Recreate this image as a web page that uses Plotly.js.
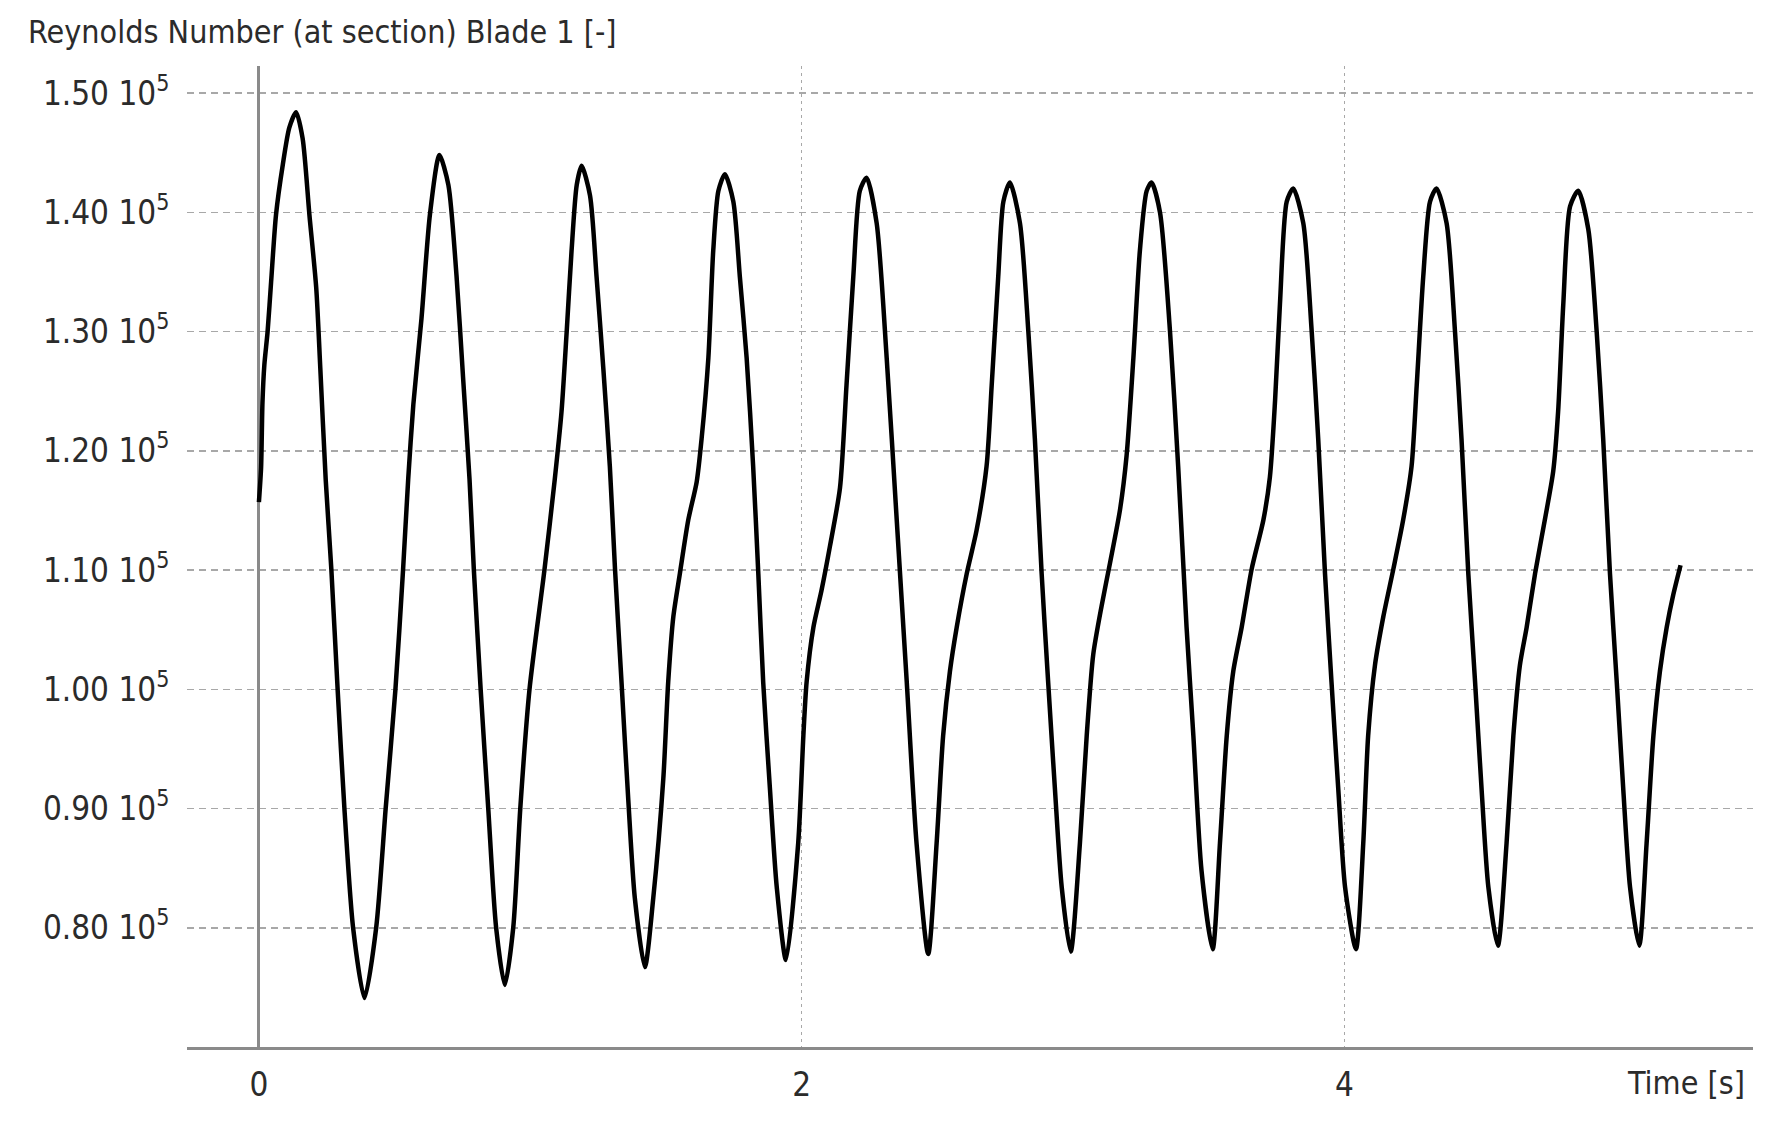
<!DOCTYPE html>
<html>
<head>
<meta charset="utf-8">
<script src="https://cdn.plot.ly/plotly-3.0.1.min.js"></script>
<style>html,body{margin:0;padding:0;background:#fff;}#chart{width:1773px;height:1131px;}</style>
</head>
<body>
<div id="chart"></div>
<script>
// Time [s]
const time = [
  0.000, 0.008, 0.013, 0.020, 0.032, 0.045, 0.063, 0.088, 0.112, 0.137,
  0.161, 0.186, 0.211, 0.226, 0.246, 0.267, 0.290, 0.315, 0.347, 0.389,
  0.432, 0.467, 0.503, 0.531, 0.550, 0.569, 0.599, 0.630, 0.665,
  0.698, 0.728, 0.752, 0.776, 0.792, 0.817, 0.845, 0.874, 0.906,
  0.937, 0.963, 0.997, 1.052, 1.090, 1.115, 1.134, 1.152, 1.171, 1.189,
  1.220, 1.244, 1.269, 1.293, 1.312, 1.336, 1.361, 1.385, 1.422,
  1.453, 1.490, 1.508, 1.527, 1.551, 1.582, 1.613, 1.631, 1.656, 1.674, 1.693, 1.717,
  1.748, 1.772, 1.797, 1.821, 1.840, 1.858, 1.883, 1.908, 1.942,
  1.987, 2.006, 2.018, 2.043, 2.073, 2.104, 2.141, 2.165, 2.190, 2.214, 2.239,
  2.276, 2.313, 2.350, 2.387, 2.423, 2.466,
  2.497, 2.521, 2.546, 2.571, 2.608, 2.644, 2.681, 2.700, 2.724, 2.743, 2.767,
  2.804, 2.835, 2.859, 2.884, 2.908, 2.933, 2.958, 2.991,
  3.025, 3.050, 3.074, 3.105, 3.136, 3.173, 3.197, 3.222, 3.246, 3.271, 3.289,
  3.320, 3.357, 3.387, 3.418, 3.443, 3.473, 3.514,
  3.541, 3.566, 3.590, 3.621, 3.658, 3.701, 3.725, 3.744, 3.762, 3.787, 3.811,
  3.848, 3.879, 3.903, 3.928, 3.952, 3.977, 4.002, 4.042,
  4.069, 4.087, 4.112, 4.143, 4.180, 4.216, 4.247, 4.266, 4.290, 4.315, 4.339,
  4.376, 4.407, 4.431, 4.456, 4.481, 4.505, 4.530, 4.565,
  4.597, 4.622, 4.646, 4.671, 4.702, 4.738, 4.769, 4.787, 4.806, 4.831, 4.861,
  4.898, 4.929, 4.953, 4.978, 5.003, 5.027, 5.052, 5.086,
  5.113, 5.138, 5.162, 5.187, 5.211, 5.238
];
// Reynolds number, in units of 10^5
const reynolds = [
  1.157, 1.186, 1.240, 1.272, 1.300, 1.342, 1.398, 1.440, 1.471, 1.484,
  1.462, 1.398, 1.337, 1.270, 1.176, 1.100, 1.000, 0.900, 0.800, 0.741,
  0.800, 0.900, 1.000, 1.100, 1.176, 1.239, 1.311, 1.398, 1.448,
  1.423, 1.347, 1.262, 1.176, 1.100, 1.000, 0.900, 0.800, 0.752,
  0.800, 0.900, 1.000, 1.100, 1.176, 1.233, 1.300, 1.368, 1.423, 1.439,
  1.414, 1.346, 1.269, 1.187, 1.101, 1.006, 0.907, 0.825, 0.767,
  0.825, 0.925, 1.006, 1.061, 1.097, 1.142, 1.174, 1.210, 1.278, 1.368, 1.418, 1.432,
  1.409, 1.346, 1.278, 1.187, 1.097, 1.006, 0.916, 0.834, 0.773,
  0.871, 0.961, 1.006, 1.052, 1.083, 1.120, 1.169, 1.255, 1.346, 1.418, 1.429,
  1.391, 1.278, 1.142, 1.006, 0.871, 0.778,
  0.871, 0.961, 1.015, 1.052, 1.097, 1.133, 1.187, 1.255, 1.346, 1.409, 1.425,
  1.391, 1.300, 1.210, 1.097, 1.006, 0.916, 0.834, 0.780,
  0.871, 0.961, 1.029, 1.070, 1.106, 1.151, 1.196, 1.278, 1.368, 1.418, 1.425,
  1.400, 1.300, 1.187, 1.052, 0.961, 0.848, 0.782,
  0.871, 0.961, 1.015, 1.052, 1.101, 1.142, 1.178, 1.242, 1.323, 1.409, 1.420,
  1.391, 1.300, 1.210, 1.097, 1.006, 0.916, 0.834, 0.782,
  0.871, 0.961, 1.020, 1.061, 1.101, 1.142, 1.187, 1.255, 1.346, 1.409, 1.420,
  1.391, 1.300, 1.210, 1.097, 1.006, 0.916, 0.834, 0.785,
  0.871, 0.961, 1.020, 1.052, 1.097, 1.142, 1.183, 1.233, 1.323, 1.405, 1.418,
  1.386, 1.300, 1.210, 1.097, 1.006, 0.916, 0.834, 0.785,
  0.871, 0.961, 1.015, 1.052, 1.079, 1.104
];
const yTickVals = [0.80, 0.90, 1.00, 1.10, 1.20, 1.30, 1.40, 1.50];
const yTickText = ["0.80 10<sup>5</sup>", "0.90 10<sup>5</sup>", "1.00 10<sup>5</sup>", "1.10 10<sup>5</sup>",
                   "1.20 10<sup>5</sup>", "1.30 10<sup>5</sup>", "1.40 10<sup>5</sup>", "1.50 10<sup>5</sup>"];
const xTickVals = [0, 2, 4];
const xTickText = ["0", "2", "4"];
const yTitle = "Reynolds Number (at section) Blade 1 [-]";
const xTitle = "Time [s]";

const FONT = "'DejaVu Sans Condensed', 'DejaVu Sans', sans-serif";
const TXT = "#2b2b2b";

const trace = {
  x: time, y: reynolds, type: "scatter", mode: "lines",
  line: {color: "#000000", width: 4.5, shape: "spline", smoothing: 0.7},
  hoverinfo: "skip", showlegend: false
};

const layout = {
  width: 1773, height: 1131,
  margin: {l: 187, r: 20, t: 66, b: 84, pad: 0},
  paper_bgcolor: "#ffffff", plot_bgcolor: "#ffffff",
  font: {family: FONT, size: 32, color: TXT},
  xaxis: {
    range: [-0.265, 5.505],
    tickmode: "array", tickvals: xTickVals, ticktext: xTickText,
    showgrid: true, gridcolor: "#a8a8a8", gridwidth: 1.5, griddash: "3px,4px",
    zeroline: true, zerolinecolor: "#8a8a8a", zerolinewidth: 3,
    showline: true, linecolor: "#8a8a8a", linewidth: 3,
    ticks: "outside", ticklen: 6, tickcolor: "rgba(0,0,0,0)",
    tickfont: {family: FONT, size: 33, color: TXT},
    fixedrange: true
  },
  yaxis: {
    range: [0.70, 1.5227],
    tickmode: "array", tickvals: yTickVals, ticktext: yTickText,
    showgrid: true, gridcolor: "#a8a8a8", gridwidth: 1.5, griddash: "7px,5px",
    zeroline: false, showline: false,
    ticks: "outside", ticklen: 10, tickcolor: "rgba(0,0,0,0)",
    tickfont: {family: FONT, size: 33, color: TXT},
    fixedrange: true
  },
  annotations: [
    {text: yTitle, xref: "paper", yref: "paper", x: -0.1028, y: 1.0347,
     xanchor: "left", yanchor: "middle", showarrow: false,
     font: {family: FONT, size: 32, color: TXT}},
    {text: xTitle, xref: "paper", yref: "paper", x: 0.9962, y: -0.0367,
     xanchor: "right", yanchor: "middle", showarrow: false,
     font: {family: FONT, size: 32, color: TXT}}
  ]
};

Plotly.newPlot("chart", [trace], layout, {displayModeBar: false, staticPlot: true});
</script>
</body>
</html>
